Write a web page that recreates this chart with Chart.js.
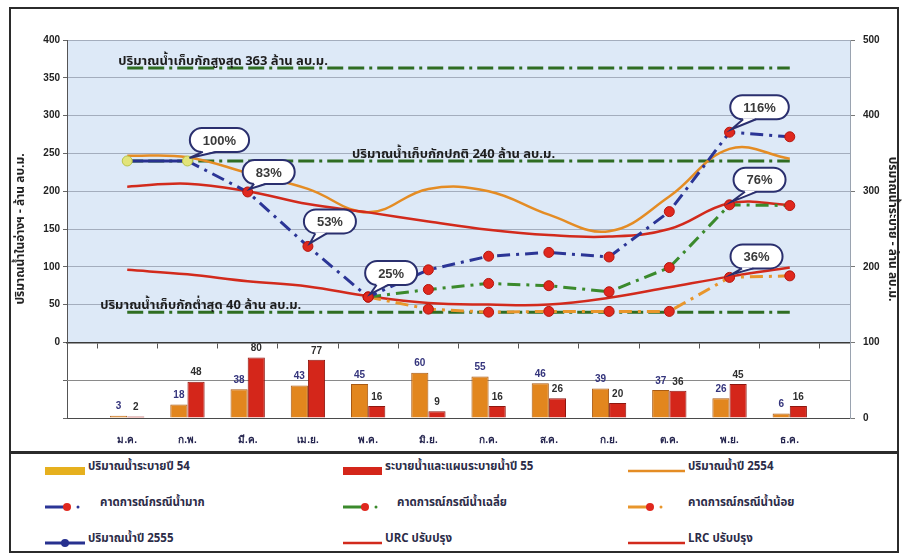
<!DOCTYPE html>
<html lang="th">
<head>
<meta charset="utf-8">
<title>ปริมาณน้ำในอ่างฯ และการระบายน้ำ</title>
<script src="https://cdn.jsdelivr.net/npm/chart.js@4.4.1/dist/chart.umd.min.js"></script>
<style>
  html, body { margin: 0; padding: 0; background: #fff; }
  body { width: 902px; height: 554px; position: relative; overflow: hidden;
         font-family: "Noto Sans Thai", Tahoma, "DejaVu Sans", sans-serif; }
  #frame { position: absolute; left: 9px; top: 7px; width: 890px; height: 546px;
           border: 2px solid #2b2b2b; box-sizing: border-box; }
  #rule { position: absolute; left: 9px; top: 451px; width: 890px; height: 3px; background: #2b2b2b; }
  #wrap { position: absolute; left: 0; top: 0; width: 902px; height: 452px; }
  #legend { position: absolute; left: 0; top: 452px; width: 902px; height: 100px; pointer-events: none; }
  .item { position: absolute; height: 20px; display: flex; align-items: center;
          font-size: 11.5px; font-weight: bold; color: #2c2c48; white-space: nowrap; }
  .sym { position: absolute; }
</style>
</head>
<body>
<div id="frame"></div>
<div id="rule"></div>
<div id="wrap"><canvas id="c"></canvas></div>
<div id="legend"></div>
<script>
  "use strict";

  const FONT = '"Noto Sans Thai", Tahoma, "DejaVu Sans", Arial, sans-serif';

  // เดือน (แกน x)
  const MONTHS = ["ม.ค.", "ก.พ.", "มี.ค.", "เม.ย.", "พ.ค.", "มิ.ย.",
                  "ก.ค.", "ส.ค.", "ก.ย.", "ต.ค.", "พ.ย.", "ธ.ค."];

  // การระบายน้ำ (แกนขวา, ล้าน ลบ.ม.)
  const RELEASE_54 = [3, 18, 38, 43, 45, 60, 55, 46, 39, 37, 26, 6];
  const RELEASE_55 = [2, 48, 80, 77, 16, 9, 16, 26, 20, 36, 45, 16];

  // ปริมาณน้ำในอ่างฯ (แกนซ้าย, ล้าน ลบ.ม.)
  const STORAGE_2554 = [247, 245, 224, 203, 172, 203, 200, 169, 147, 193, 256, 243];
  const STORAGE_2555 = [240, 240, null, null, null, null, null, null, null, null, null, null];
  const FORECAST_HIGH = [null, 240, 199, 127, 60, 96, 114, 119, 113, 173, 278, 272];
  const FORECAST_MID = [null, null, null, null, 60, 70, 78, 75, 67, 99, 182, 181];
  const FORECAST_LOW = [null, null, null, null, 60, 44, 40, 41, 41, 41, 86, 88];
  const URC = [206, 210, 200, 183, 172, 160, 149, 142, 140, 150, 184, 182];
  const LRC = [96, 90, 81, 74, 61, 52, 50, 50, 59, 73, 87, 99];

  // ระดับเก็บกัก
  const STORAGE_MAX = 363;
  const STORAGE_NORMAL = 240;
  const STORAGE_MIN = 40;

  // เส้นตารางของช่องแท่ง (แกนขวา)
  const BAR_GRID = [50];

  // ช่องว่างครึ่งเดือนหัว-ท้ายแกน
  const pad = (arr) => [null].concat(arr, [null]);
  const flat = (v) => pad(MONTHS.map(() => v));
  const LABELS = pad(MONTHS).map((m) => m || "");

  const pct = (v) => Math.round((v / STORAGE_NORMAL) * 100) + "%";

  const DASHDOT = [13, 6, 3, 6];
  const REFDASH = [16, 5, 16, 5, 3, 5];
  const DOT_RED = "#e0281e";

  const datasets = [
    {
      key: "s2555", type: "line", label: "ปริมาณน้ำปี 2555", yAxisID: "yL",
      data: pad(STORAGE_2555), borderColor: "#27318f", borderWidth: 3,
      pointRadius: 5, pointBackgroundColor: "#e2e47a", pointBorderColor: "#b9c24a",
      pointBorderWidth: 1, order: 1
    },
    {
      key: "high", type: "line", label: "คาดการณ์กรณีน้ำมาก", yAxisID: "yL",
      data: pad(FORECAST_HIGH), borderColor: "#2b3596", borderWidth: 3, borderDash: DASHDOT,
      pointRadius: pad(FORECAST_HIGH.map((v, i) => (i < 2 ? 0 : 5))),
      pointBackgroundColor: DOT_RED, pointBorderColor: "#b5170f", pointBorderWidth: 1, order: 2
    },
    {
      key: "mid", type: "line", label: "คาดการณ์กรณีน้ำเฉลี่ย", yAxisID: "yL",
      data: pad(FORECAST_MID), borderColor: "#3b8a2c", borderWidth: 3, borderDash: DASHDOT,
      pointRadius: 5, pointBackgroundColor: DOT_RED, pointBorderColor: "#b5170f",
      pointBorderWidth: 1, order: 3
    },
    {
      key: "low", type: "line", label: "คาดการณ์กรณีน้ำน้อย", yAxisID: "yL",
      data: pad(FORECAST_LOW), borderColor: "#e8962c", borderWidth: 3, borderDash: DASHDOT,
      pointRadius: 5, pointBackgroundColor: DOT_RED, pointBorderColor: "#b5170f",
      pointBorderWidth: 1, order: 4
    },
    {
      key: "urc", type: "line", label: "URC ปรับปรุง", yAxisID: "yL",
      data: pad(URC), borderColor: "#d22a1c", borderWidth: 2.5, tension: 0.4,
      pointRadius: 0, order: 5
    },
    {
      key: "lrc", type: "line", label: "LRC ปรับปรุง", yAxisID: "yL",
      data: pad(LRC), borderColor: "#d22a1c", borderWidth: 2.5, tension: 0.4,
      pointRadius: 0, order: 6
    },
    {
      key: "s2554", type: "line", label: "ปริมาณน้ำปี 2554", yAxisID: "yL",
      data: pad(STORAGE_2554), borderColor: "#e48c24", borderWidth: 2.5, tension: 0.4,
      pointRadius: 0, order: 7
    },
    {
      key: "refMax", type: "line", label: "ปริมาณน้ำเก็บกักสูงสุด", yAxisID: "yL",
      data: flat(STORAGE_MAX), borderColor: "#2f6d22", borderWidth: 3, borderDash: REFDASH,
      pointRadius: 0, order: 8, refValue: STORAGE_MAX, refAt: 0.85,
      refText: "ปริมาณน้ำเก็บกักสูงสุด " + STORAGE_MAX + " ล้าน ลบ.ม."
    },
    {
      key: "refNormal", type: "line", label: "ปริมาณน้ำเก็บกักปกติ", yAxisID: "yL",
      data: flat(STORAGE_NORMAL), borderColor: "#2f6d22", borderWidth: 3, borderDash: REFDASH,
      pointRadius: 0, order: 8, refValue: STORAGE_NORMAL, refAt: 4.73,
      refText: "ปริมาณน้ำเก็บกักปกติ " + STORAGE_NORMAL + " ล้าน ลบ.ม."
    },
    {
      key: "refMin", type: "line", label: "ปริมาณน้ำเก็บกักต่ำสุด", yAxisID: "yL",
      data: flat(STORAGE_MIN), borderColor: "#2f6d22", borderWidth: 3, borderDash: REFDASH,
      pointRadius: 0, order: 8, refValue: STORAGE_MIN, refAt: 0.55,
      refText: "ปริมาณน้ำเก็บกักต่ำสุด " + STORAGE_MIN + " ล้าน ลบ.ม."
    },
    {
      key: "rel54", type: "bar", label: "ปริมาณน้ำระบายปี 54", yAxisID: "y",
      data: pad(RELEASE_54), backgroundColor: "#e2861e", borderColor: "#a85a14",
      borderWidth: 1, legendColor: "#e6b01e", valueColor: "#34347c", order: 10
    },
    {
      key: "rel55", type: "bar", label: "ระบายน้ำและแผนระบายน้ำปี 55", yAxisID: "y",
      data: pad(RELEASE_55), backgroundColor: "#d4261a", borderColor: "#8e1710",
      borderWidth: 1, legendColor: "#d4261a", valueColor: "#2e2e2e", order: 10
    }
  ];

  // ป้ายเปอร์เซ็นต์: ชุดข้อมูล, เดือน (0 = ม.ค.), เลื่อนกรอบ (px)
  const CALLOUTS = [
    { key: "s2555", month: 1, dx: 32, dy: -21 },
    { key: "high", month: 2, dx: 21, dy: -20 },
    { key: "high", month: 3, dx: 22, dy: -25 },
    { key: "high", month: 4, dx: 23, dy: -24 },
    { key: "high", month: 10, dx: 30, dy: -25 },
    { key: "mid", month: 10, dx: 30, dy: -25 },
    { key: "low", month: 10, dx: 27, dy: -21 }
  ];

  const byKey = (k) => datasets.find((d) => d.key === k);

  // พื้นฟ้าเฉพาะช่องปริมาณน้ำในอ่างฯ และเส้นตารางช่องแท่ง
  const backdrop = {
    id: "backdrop",
    beforeDraw(chart) {
      const { ctx, chartArea: a, scales } = chart;
      const yMid = scales.y.getPixelForValue(100);
      ctx.save();
      ctx.fillStyle = "#dde9f7";
      ctx.fillRect(a.left, a.top, a.right - a.left, yMid - a.top);
      ctx.restore();
    },
    beforeDatasetsDraw(chart) {
      const { ctx, chartArea: a, scales } = chart;
      ctx.save();
      ctx.strokeStyle = "#8a8a8a";
      ctx.lineWidth = 1;
      BAR_GRID.forEach((v) => {
        const y = Math.round(scales.y.getPixelForValue(v)) + 0.5;
        ctx.beginPath();
        ctx.moveTo(a.left, y);
        ctx.lineTo(a.right, y);
        ctx.stroke();
      });
      ctx.restore();
    }
  };

  function roundRect(ctx, x, y, w, h, r) {
    ctx.beginPath();
    ctx.moveTo(x + r, y);
    ctx.arcTo(x + w, y, x + w, y + h, r);
    ctx.arcTo(x + w, y + h, x, y + h, r);
    ctx.arcTo(x, y + h, x, y, r);
    ctx.arcTo(x, y, x + w, y, r);
    ctx.closePath();
  }

  const annotate = {
    id: "annotate",
    afterDatasetsDraw(chart) {
      const { ctx, scales } = chart;
      ctx.save();

      // ตัวเลขบนแท่ง
      chart.data.datasets.forEach((ds, di) => {
        if (ds.type !== "bar") return;
        const meta = chart.getDatasetMeta(di);
        ctx.font = "bold 10px Arial, sans-serif";
        ctx.textAlign = "center";
        ctx.textBaseline = "bottom";
        ctx.fillStyle = ds.valueColor;
        meta.data.forEach((el, i) => {
          const v = ds.data[i];
          if (v == null) return;
          ctx.fillText(String(v), el.x, el.y - 4);
        });
      });

      // ข้อความระดับเก็บกัก
      chart.data.datasets.forEach((ds) => {
        if (ds.refText == null) return;
        const x = scales.x.getPixelForValue(ds.refAt);
        const y = scales.yL.getPixelForValue(ds.refValue);
        ctx.font = "bold 13px " + FONT;
        ctx.textAlign = "left";
        ctx.textBaseline = "middle";
        ctx.fillStyle = "#1d1d1d";
        ctx.fillText(ds.refText, x, y - 6);
      });

      // กรอบเปอร์เซ็นต์
      CALLOUTS.forEach((c) => {
        const di = chart.data.datasets.findIndex((d) => d.key === c.key);
        const el = chart.getDatasetMeta(di).data[c.month + 1];
        const v = chart.data.datasets[di].data[c.month + 1];
        const text = pct(v);
        ctx.font = "bold 13px Arial, sans-serif";
        const w = ctx.measureText(text).width + 26;
        const h = 24;
        const cx = el.x + c.dx;
        const cy = el.y + c.dy;
        const x0 = cx - w / 2;
        const y0 = cy - h / 2;
        ctx.fillStyle = "#ffffff";
        ctx.strokeStyle = "#2a2f6e";
        ctx.lineWidth = 2;
        roundRect(ctx, x0, y0, w, h, 12);
        ctx.fill();
        ctx.stroke();
        // หาง
        ctx.beginPath();
        ctx.moveTo(cx - w * 0.28, y0 + h - 1);
        ctx.lineTo(el.x + 2, el.y - 3);
        ctx.lineTo(cx - w * 0.06, y0 + h - 1);
        ctx.fill();
        ctx.beginPath();
        ctx.moveTo(cx - w * 0.28, y0 + h);
        ctx.lineTo(el.x + 2, el.y - 3);
        ctx.lineTo(cx - w * 0.06, y0 + h);
        ctx.stroke();
        ctx.fillStyle = "#3a3a3a";
        ctx.textAlign = "center";
        ctx.textBaseline = "middle";
        ctx.fillText(text, cx, cy + 1);
      });

      ctx.restore();
    }
  };

  const tickFont = { family: "Arial, sans-serif", size: 10, weight: "bold" };

  new Chart(document.getElementById("c"), {
    data: { labels: LABELS, datasets },
    plugins: [backdrop, annotate],
    options: {
      responsive: true,
      maintainAspectRatio: false,
      animation: false,
      layout: { padding: { top: 40, left: 0, right: 0, bottom: 0 } },
      categoryPercentage: 0.57,
      barPercentage: 1.0,
      plugins: { legend: { display: false }, tooltip: { enabled: false } },
      elements: { line: { fill: false } },
      scales: {
        x: {
          type: "category",
          offset: false,
          grid: { display: false },
          border: { display: true, color: "#4a4a4a", width: 1 },
          ticks: { color: "#25254f", font: tickFont, padding: 8, autoSkip: false, maxRotation: 0 },
          afterFit(s) { s.height = 34; }
        },
        xMid: {
          type: "category",
          offset: false,
          position: { y: 100 },
          grid: { offset: true, drawOnChartArea: false, tickLength: 5, color: "#555" },
          border: { display: true, color: "#3a3a3a", width: 1.5 },
          ticks: { display: false }
        },
        yL: {
          position: "left",
          min: -100,
          max: 400,
          ticks: {
            stepSize: 50, color: "#222", font: tickFont, padding: 3,
            callback: (v) => (v < 0 ? " " : String(v))
          },
          grid: { color: "#a3adbd", tickLength: 4, tickColor: "#666" },
          border: { display: true, color: "#555", width: 1 },
          title: {
            display: true, text: "ปริมาณน้ำในอ่างฯ - ล้าน ลบ.ม.", color: "#222",
            font: { family: FONT, size: 12, weight: "bold" }, padding: { top: 14, bottom: 0 }
          },
          afterFit(s) { s.width = 67; }
        },
        y: {
          position: "right",
          min: 0,
          max: 500,
          ticks: { stepSize: 100, color: "#222", font: tickFont, padding: 8 },
          grid: { drawOnChartArea: false, tickLength: 5, color: "#777" },
          border: { display: true, color: "#9aa3b0", width: 1 },
          title: {
            display: true, text: "ปริมาณน้ำระบาย - ล้าน ลบ.ม.", color: "#222",
            font: { family: FONT, size: 12, weight: "bold" }, padding: { top: 3, bottom: 0 }
          },
          afterFit(s) { s.width = 52; }
        }
      }
    }
  });

  // คำอธิบายสัญลักษณ์ (ตำแหน่งนับจากขอบบนของกล่องคำอธิบาย)
  const LEGEND_ROWS = [["rel54", "rel55", "s2554"], ["high", "mid", "low"], ["s2555", "urc", "lrc"]];
  const COL_SYM = [45, 343, 628];
  const COL_TEXT = [88, 385, 688];
  const ROW_Y = [14, 50, 86];

  function symbolSvg(ds, w) {
    const h = 12, m = h / 2;
    let body = "";
    if (ds.type === "bar") {
      body = `<rect x="0" y="${m - 4}" width="${w}" height="8" fill="${ds.legendColor}"/>`;
    } else if (ds.key === "high" || ds.key === "mid" || ds.key === "low") {
      body = `<line x1="0" y1="${m}" x2="${w - 14}" y2="${m}" stroke="${ds.borderColor}" stroke-width="3"/>` +
        `<circle cx="${w - 14}" cy="${m}" r="4" fill="${DOT_RED}"/>` +
        `<circle cx="${w - 3}" cy="${m}" r="1.5" fill="${ds.borderColor}"/>`;
    } else if (ds.key === "s2555") {
      body = `<line x1="0" y1="${m}" x2="${w}" y2="${m}" stroke="${ds.borderColor}" stroke-width="3"/>` +
        `<circle cx="${w / 2}" cy="${m}" r="4" fill="${ds.borderColor}"/>`;
    } else {
      body = `<line x1="0" y1="${m}" x2="${w}" y2="${m}" stroke="${ds.borderColor}" stroke-width="${ds.borderWidth}"/>`;
    }
    return `<svg width="${w}" height="${h}" viewBox="0 0 ${w} ${h}">${body}</svg>`;
  }

  const legendEl = document.getElementById("legend");
  LEGEND_ROWS.forEach((row, r) => {
    row.forEach((key, c) => {
      const ds = byKey(key);
      const forecast = r === 1;
      const textLeft = COL_TEXT[c] + (forecast && c < 2 ? 12 : 0);
      const symW = forecast ? 36 : COL_TEXT[c] - COL_SYM[c] - 3;
      const sym = document.createElement("div");
      sym.className = "sym";
      sym.style.left = COL_SYM[c] + "px";
      sym.style.top = ROW_Y[r] - 6 + "px";
      sym.innerHTML = symbolSvg(ds, symW);
      legendEl.appendChild(sym);
      const item = document.createElement("div");
      item.className = "item";
      item.style.left = textLeft + "px";
      item.style.top = ROW_Y[r] - 10 + "px";
      item.textContent = ds.label;
      legendEl.appendChild(item);
    });
  });
</script>
</body>
</html>
